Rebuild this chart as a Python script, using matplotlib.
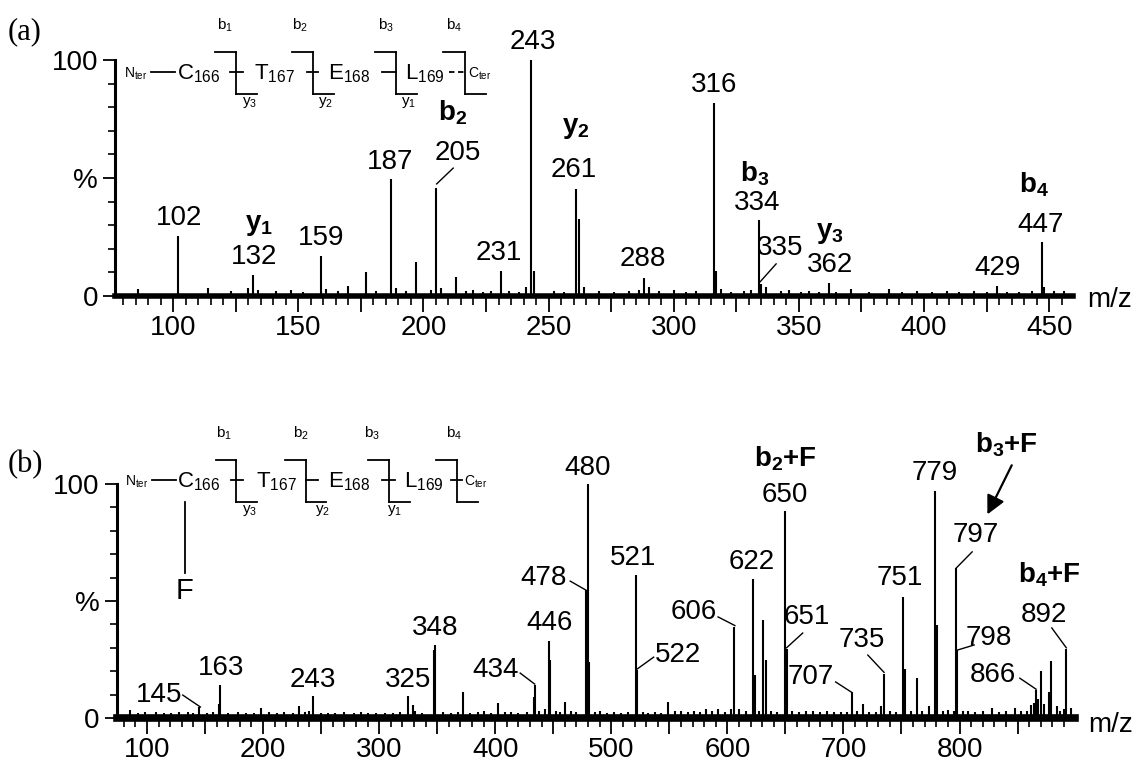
import matplotlib
matplotlib.use("Agg")
import matplotlib.pyplot as plt
from matplotlib.lines import Line2D
from matplotlib.ticker import MultipleLocator, FuncFormatter

plt.rcParams['font.family'] = ['Liberation Sans', 'DejaVu Sans']
plt.rcParams['mathtext.fontset'] = 'custom'
plt.rcParams['mathtext.rm'] = 'Liberation Sans'
plt.rcParams['mathtext.it'] = 'Liberation Sans:italic'
plt.rcParams['mathtext.bf'] = 'Liberation Sans:bold'

# ---------------- panel (a) : CTEL ----------------
a_mz = [102, 130, 132, 159, 170, 177, 187, 197, 205, 213, 231, 241, 243, 244,
        261, 262, 288, 316, 317, 334, 335, 362, 429, 447, 448]
a_int = [25.6, 3.5, 9.0, 17.1, 4.3, 10, 49.5, 14.2, 45.8, 8.1, 10.7, 4, 100, 10.7,
         45.4, 32.7, 7.8, 81.8, 10.7, 32, 5, 5.3, 4.3, 22.8, 4]
a_noise_mz = [86, 114, 123, 134, 141, 147, 152, 161, 166, 181, 189, 193, 203, 207,
              217, 220, 224, 227, 234, 238, 252, 256, 264, 270, 276, 282, 286, 290,
              294, 300, 305, 309, 319, 323, 328, 331, 337, 343, 346, 351, 354, 358,
              365, 371, 378, 386, 391, 397, 403, 409, 414, 420, 425, 433, 438, 443,
              452, 456]
a_noise_int = [3, 3.5, 2, 2.5, 2, 2.5, 1.5, 3, 2, 2, 3.5, 2, 2.5, 3.5,
               2, 2.5, 1.5, 2, 2, 1.5, 2, 1.5, 4, 2, 1.5, 2, 2.5, 4,
               2, 2.5, 1.5, 2, 3, 1.5, 2, 2.5, 4, 2, 2.5, 1.5, 2, 1.5,
               1.5, 3, 1.5, 3, 1.5, 2, 1.5, 2, 1.5, 2, 1.5, 1.5, 1.5, 2,
               2, 2]

a_labels = ['102', '132', '159', '187', '205', '231', '243', '261', '288', '316',
            '334', '335', '362', '429', '447']
a_label_x = [102.3, 132.2, 159.2, 186.7, 213.6, 230, 243.7, 260, 287.5, 316,
             333.5, 342.5, 362.5, 429.2, 446.5]
a_label_y = [33, 16.5, 24.6, 56.8, 60.6, 18.2, 107.8, 53.4, 15.6, 89.4,
             39.3, 20.3, 13.1, 11.9, 30]
a_leaders = [((211.9, 54.2), (205.3, 47.5)), ((340.9, 13.6), (334.5, 6))]

a_ions = ['y$_{\\mathbf{1}}$', 'b$_{\\mathbf{2}}$', 'y$_{\\mathbf{2}}$',
          'b$_{\\mathbf{3}}$', 'y$_{\\mathbf{3}}$', 'b$_{\\mathbf{4}}$']
a_ion_x = [134.5, 211.5, 261, 332.5, 362.5, 444]
a_ion_y = [30, 77.5, 71, 52, 26.7, 47]

# ---------------- panel (b) : CTEL + F ----------------
b_mz = [145, 162, 163, 198, 231, 243, 325, 329, 347, 348, 372, 402, 433, 434,
        446, 447, 460, 478, 480, 481, 521, 522, 549, 606, 622, 624, 631, 633,
        650, 651, 707, 717, 735, 751, 753, 763, 779, 781, 797, 798, 862, 864,
        866, 870, 877, 879, 892]
b_int = [4.7, 6, 14, 4.4, 5, 9.3, 9.3, 5.4, 29, 31, 11, 6.4, 9, 14,
         33, 25, 7, 54.7, 100, 24, 61, 20.4, 7, 39, 59.3, 18.3, 41.9, 24.7,
         88.3, 29.7, 11, 6, 19, 51.7, 21, 16.9, 97, 39.7, 64, 29, 5.7, 6.4,
         12, 20, 11, 24.5, 29.5]
b_noise_mz = [85, 92, 98, 108, 115, 121, 128, 135, 140, 152, 157, 170, 178, 185,
              192, 205, 212, 218, 226, 236, 240, 250, 256, 262, 270, 278, 284, 290,
              297, 305, 312, 318, 331, 337, 355, 362, 368, 378, 385, 390, 396, 408,
              414, 420, 427, 438, 443, 452, 456, 465, 470, 486, 490, 496, 502, 508,
              514, 527, 532, 538, 543, 555, 560, 566, 571, 576, 582, 587, 592, 598,
              603, 610, 616, 627, 638, 643, 656, 662, 668, 674, 680, 686, 692, 698,
              703, 712, 722, 728, 732, 740, 745, 758, 768, 774, 786, 790, 795, 803,
              807, 813, 820, 828, 834, 840, 848, 853, 858, 868, 873, 884, 887, 890,
              896]
b_noise_int = [3.5, 2, 2.5, 2.5, 2, 2, 2.5, 2.5, 2, 2, 2.5, 2, 2.5, 2,
               2, 2.5, 2, 2.5, 2, 2.5, 3, 2, 2, 2, 2.5, 2, 2.5, 2,
               2, 2, 2, 2.5, 3, 2, 2.5, 2, 2.5, 2, 2.5, 3, 2, 2.5,
               2.5, 2, 2.5, 3, 4, 3, 2.5, 3, 2.5, 2.5, 3, 2, 2.5, 2,
               2.5, 2.5, 2, 2.5, 2, 3, 3, 2.5, 3, 2.5, 4, 3, 4, 2.5,
               4, 4, 3, 3, 3, 2.5, 3, 2.5, 3, 3, 2.5, 3, 2.5, 2.5,
               2.5, 3, 2.5, 2.5, 5, 3, 2.5, 3, 3, 5, 3, 3.6, 3, 3,
               2.8, 2.5, 3, 4.3, 2.5, 3, 4.3, 3, 3, 8, 6, 5, 2.8, 4,
               4.3]

b_labels = ['145', '163', '243', '325', '348', '434', '446', '478', '480', '521',
            '522', '606', '622', '650', '651', '707', '735', '751', '779', '797',
            '798', '866', '892']
b_label_x = [110.8, 164, 243, 324.6, 348.6, 400, 446.7, 441.5, 479.3, 518.5,
             557.8, 570.8, 620.8, 649.2, 668.8, 672.1, 716.2, 748.2, 778.3, 814.2,
             825.6, 828.9, 872.4]
b_label_y = [9.8, 21.4, 16.2, 16.2, 38.5, 20.5, 40.6, 59.8, 107, 68.4,
             26.9, 45.3, 66.7, 95.3, 43.2, 17.5, 33.3, 59.8, 104.7, 78.2,
             34.2, 18.4, 44]
b_leaders = [((130.8, 9.8), (146, 4.7)), ((421.5, 19.2), (434, 14.5)),
             ((464.6, 58.5), (478, 54.7)), ((536.5, 26), (522.5, 21)),
             ((592, 43.2), (606.5, 39.5)), ((664.9, 36.3), (651, 30)),
             ((693.3, 15.4), (707, 11)), ((721, 26.9), (735, 19.5)),
             ((810.9, 71), (797, 64)), ((812.6, 31.2), (798, 29)),
             ((852, 17), (866, 12.3)), ((879.5, 38.5), (892, 30))]

b_ions = ['b$_{\\mathbf{2}}$+F', 'b$_{\\mathbf{3}}$+F', 'b$_{\\mathbf{4}}$+F']
b_ion_x = [650.2, 840.3, 877.9]
b_ion_y = [111, 116.7, 61.1]
b_arrow = ((845, 108), (824, 87))

residues = ['C', 'T', 'E', 'L']
res_numbers = ['166', '167', '168', '169']
b_names = ['b$_1$', 'b$_2$', 'b$_3$', 'b$_4$']
y_names = ['y$_3$', 'y$_2$', 'y$_1$']

W, H = 1137, 767
fig = plt.figure(figsize=(W / 100, H / 100), dpi=100)


def px_line(x0, y0, x1, y1, **kw):
    # line in figure pixel coordinates (y measured from the top)
    fig.add_artist(Line2D([x0 / W, x1 / W], [1 - y0 / H, 1 - y1 / H],
                          transform=fig.transFigure, color='black',
                          lw=kw.pop('lw', 1.3), **kw))


def px_text(x, y, s, **kw):
    fig.text(x / W, 1 - y / H, s, **kw)


def draw_peptide(top, nter_x, res_x, cter_x, brackets, b_x, y_x, last_dashed=False):
    base = top + 27
    px_text(nter_x, base - 1, 'N$_{\\mathrm{ter}}$', fontsize=10, ha='left', va='baseline')
    px_line(nter_x + 27, top + 20, nter_x + 51, top + 20)
    for r, n, x in zip(residues, res_numbers, res_x):
        px_text(x, base, r + '$_{' + n + '}$', fontsize=16, ha='left', va='baseline')
    px_text(cter_x, base - 1, 'C$_{\\mathrm{ter}}$', fontsize=10, ha='left', va='baseline')
    for i, (xl, xv, xr, d0, d1) in enumerate(brackets):
        px_line(xl, top, xv, top)
        px_line(xv, top, xv, top + 42)
        px_line(xv, top + 42, xr, top + 42)
        if last_dashed and i == len(brackets) - 1:
            px_line(d0, top + 20, d1, top + 20, ls=(0, (3, 2)))
        else:
            px_line(d0, top + 20, d1, top + 20)
    for s, x in zip(b_names, b_x):
        px_text(x, top - 27, s, fontsize=11, ha='center', va='center')
    for s, x in zip(y_names, y_x):
        px_text(x, top + 51, s, fontsize=11, ha='center', va='center')


def style_axis(ax, xlim, major, minor, label_step):
    ax.set_xlim(xlim)
    ax.set_ylim(0, 100)
    ax.patch.set_alpha(0)
    for s in ['top', 'right']:
        ax.spines[s].set_visible(False)
    ax.spines['left'].set_linewidth(2.2)
    ax.spines['bottom'].set_linewidth(4)
    ax.xaxis.set_major_locator(MultipleLocator(major))
    ax.xaxis.set_minor_locator(MultipleLocator(minor))
    ax.xaxis.set_major_formatter(
        FuncFormatter(lambda v, p: f'{v:.0f}' if round(v) % label_step == 0 else ''))
    ax.set_yticks([0, 50, 100])
    ax.set_yticklabels(['0', '%', '100'])
    ax.yaxis.set_minor_locator(MultipleLocator(10))
    ax.tick_params(axis='x', which='major', direction='out', length=11.5, width=1.3,
                   pad=2.5, labelsize=20)
    ax.tick_params(axis='x', which='minor', direction='out', length=6.5, width=1.2)
    ax.tick_params(axis='y', which='major', direction='out', length=8.6, width=1.3,
                   pad=3.6, labelsize=20)
    ax.tick_params(axis='y', which='minor', direction='out', length=5, width=1.2)


def draw_spectrum(ax, mz, inten, nmz, nint, labels, lx, ly, leaders, ions, ix, iy):
    ax.vlines(nmz, 0, nint, colors='black', lw=1.5)
    ax.vlines(mz, 0, inten, colors='black', lw=1.5)
    for s, x, y in zip(labels, lx, ly):
        ax.text(x, y, s, ha='center', va='center', fontsize=20)
    for (x0, y0), (x1, y1) in leaders:
        ax.plot([x0, x1], [y0, y1], color='black', lw=1.0, clip_on=False)
    for s, x, y in zip(ions, ix, iy):
        ax.text(x, y, s, ha='center', va='center', fontsize=20, fontweight='bold')


# ---- panel (a)
ax_a = fig.add_axes([115 / W, 1 - 296 / H, (1073 - 115) / W, (296 - 60) / H])
style_axis(ax_a, (76.8, 459.5), 25, 5, 50)
draw_spectrum(ax_a, a_mz, a_int, a_noise_mz, a_noise_int, a_labels, a_label_x,
              a_label_y, a_leaders, a_ions, a_ion_x, a_ion_y)

# ---- panel (b)
ax_b = fig.add_axes([116.7 / W, 1 - 718 / H, (1075 - 116.7) / W, (718 - 484) / H])
style_axis(ax_b, (73.9, 899.5), 50, 10, 100)
ax_b.spines['bottom'].set_linewidth(5.5)
draw_spectrum(ax_b, b_mz, b_int, b_noise_mz, b_noise_int, b_labels, b_label_x,
              b_label_y, b_leaders, b_ions, b_ion_x, b_ion_y)
ax_b.annotate('', xy=b_arrow[1], xytext=b_arrow[0], annotation_clip=False,
              arrowprops=dict(arrowstyle='-|>', color='black', lw=1.6,
                              mutation_scale=28, shrinkA=0, shrinkB=0))

# ---- peptide sketches
draw_peptide(52, 124, [177, 254.5, 328, 404.6], 468,
             [(215, 236, 257, 230, 243), (292, 313, 334, 307, 318),
              (375, 396, 417, 382, 396), (443, 465, 486, 449, 465)],
             [225, 300, 386, 454], [250, 326, 409], last_dashed=True)
draw_peptide(460, 125, [177, 255.5, 328, 404], 464,
             [(215.5, 236, 257, 230.5, 243), (285, 305.6, 326, 305.6, 318),
              (368, 389, 410, 382, 395), (436, 457, 478, 451, 462)],
             [224, 301, 372, 454], [250, 323, 395])
px_line(185, 502, 185, 573)
px_text(185, 599, 'F', fontsize=21, ha='center', va='baseline')

# ---- panel tags and axis titles
px_text(8, 32, '(a)', fontsize=22, family='Liberation Serif', ha='left', va='center')
px_text(8, 465, '(b)', fontsize=22, family='Liberation Serif', ha='left', va='center')
px_text(1087, 300, 'm/z', fontsize=20, ha='left', va='center')
px_text(1088, 725, 'm/z', fontsize=20, ha='left', va='center')

fig.savefig('out.png', dpi=100)
